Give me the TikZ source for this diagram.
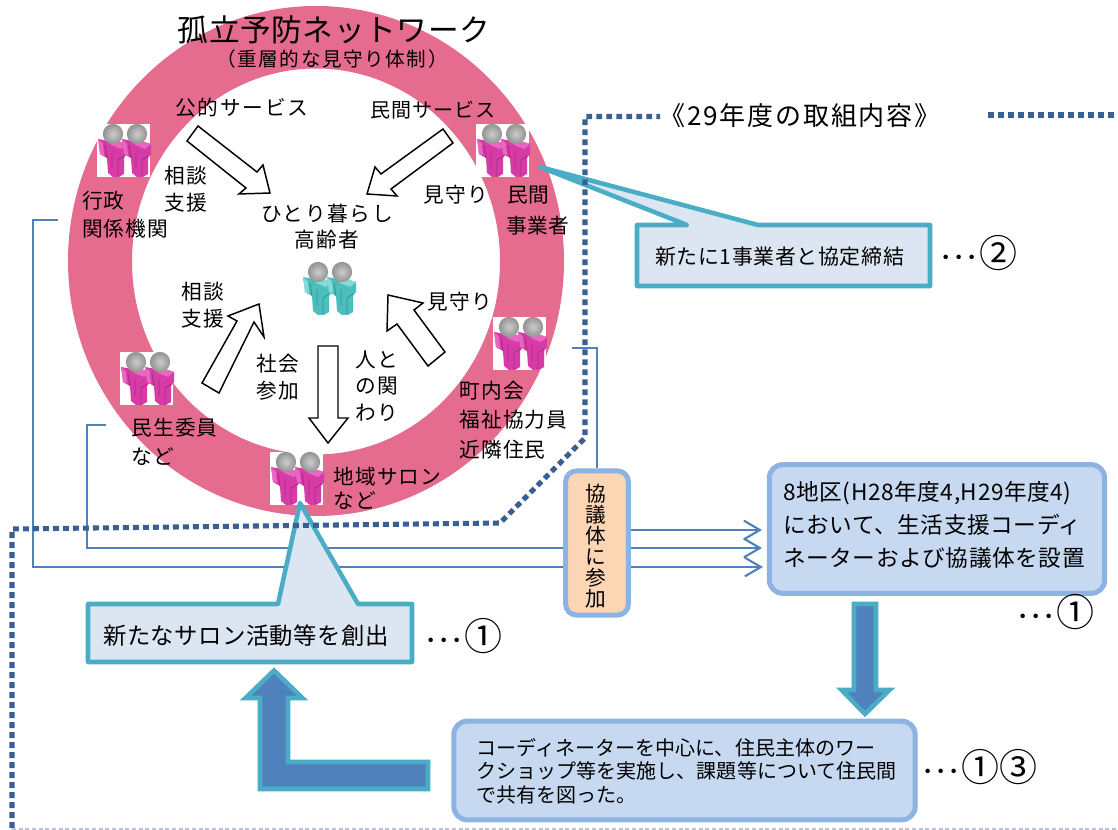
\documentclass[tikz,border=0pt]{standalone}
\usepackage{fontspec}
\setmainfont{Noto Sans CJK JP}
\usetikzlibrary{arrows.meta}
\definecolor{ringpink}{HTML}{E66C8F}
\definecolor{teal1}{HTML}{4BACC6}
\definecolor{pale}{HTML}{DCE6F2}
\definecolor{blue1}{HTML}{4F81BD}
\definecolor{blue2}{HTML}{8DB3E2}
\definecolor{blue3}{HTML}{C6D9F1}
\definecolor{orange1}{HTML}{FCD5B5}
\definecolor{dots}{HTML}{3A5F93}
\definecolor{mg}{HTML}{D63BA6}
\definecolor{mgl}{HTML}{E967C2}
\definecolor{mgd}{HTML}{AE2A86}
\definecolor{tl}{HTML}{4DBDBD}
\definecolor{tll}{HTML}{86DAD8}
\definecolor{tld}{HTML}{2F9799}
\tikzset{
  lab/.style n args={3}{font=\fontsize{#1}{#2}\selectfont\addfontfeature{LetterSpace=#3},inner sep=0pt,align=left,text=black},
  labc/.style n args={3}{lab={#1}{#2}{#3},align=center},
  mid/.style={lab={15.5}{20}{5}},
  midc/.style={labc={15.5}{20}{5}},
  flow/.style={draw=black,line width=1.1pt,fill=white,miter limit=10},
  callout/.style={draw=teal1,line width=3.4pt,fill=pale,line join=round},
  bigarrow/.style={draw=teal1,line width=3.4pt,fill=blue1,miter limit=10},
  bluebox/.style={draw=blue2,line width=3.75pt,fill=blue3,rounded corners=10pt,inner sep=0pt},
  orangebox/.style={draw=blue2,line width=3.75pt,fill=orange1,rounded corners=8pt,inner sep=0pt},
  thin line/.style={draw=blue1,line width=1.5pt},
  thin arrow/.style={thin line,-{Straight Barb[length=12pt,width=14pt,line width=1.6pt]}},
  dotline/.style={draw=dots,line width=3.8pt,dash pattern=on 4.4pt off 3.1pt},
  marks/.style={lab={28.5}{30}{0}}
}
\newcommand{\dotsmark}[1]{{\fontsize{20}{20}\selectfont ･･･}#1}
\newcommand{\onefig}[4][0]{%
  \begin{scope}[shift={(#1,0)}]
    \fill[#2] (1,15)--(12,17)--(20,17)--(30,20)--(30,30)--(27,34)--(27,50)--(22,53)--(16,53)--(11,49)--(10,34)--(3,30)--(2,22)--cycle;
    \fill[#3] (12,17)--(20,17)--(30,20)--(24,25)--(14,21)--cycle;
    \fill[#3] (1,15)--(6,20)--(7,31)--(3,30)--(2,22)--cycle;
    \draw[#4,line width=.7pt] (15,27)--(15,44) (21,36)--(21,52) (21,36)--(27,32) (8,21)--(10,34);
    \shade[inner color=gray!40,outer color=gray!85] (16,10) circle [radius=7.6pt];
  \end{scope}}
\newcommand{\people}[5]{%
  \begin{scope}[shift={(#1,#2)}]
    \fill[white] (0,0) rectangle (53,53);
    \onefig[0]{#3}{#4}{#5}
    \onefig[24]{#3}{#4}{#5}
  \end{scope}}
\begin{document}
\begin{tikzpicture}[x=0.75pt,y=-0.75pt]
\useasboundingbox (0,0) rectangle (1118,830);
\fill[white] (0,0) rectangle (1118,830);
% ring
\fill[ringpink,even odd rule] (316,261) ellipse [x radius=186pt,y radius=191.25pt]
      (316,261.5) ellipse [x radius=138pt,y radius=144.75pt];
% people
\people{97}{124}{mg}{mgl}{mgd}
\people{476}{124}{mg}{mgl}{mgd}
\people{493}{317}{mg}{mgl}{mgd}
\people{120}{352}{mg}{mgl}{mgd}
\people{270}{452}{mg}{mgl}{mgd}
\people{302}{262}{tl}{tll}{tld}
% white flow arrows
\draw[flow] (198,126)--(187,141)--(246,188)--(239,194)--(270,193)--(263,165)--(257,172)--cycle;
\draw[flow] (443,129)--(453,143)--(391,189)--(397,196)--(367,194)--(375,167)--(381,174)--cycle;
\draw[flow] (202,383)--(237,321)--(228,316)--(259,304)--(264,337)--(254,322)--(219,393)--cycle;
\draw[flow] (445,352)--(428,366)--(397,324)--(387,331)--(388,295)--(423,303)--(414,310)--cycle;
\draw[flow] (318,346)--(338,346)--(338,418)--(348,418)--(328,443)--(309,418)--(318,418)--cycle;
% boxes
\node[orangebox,minimum width=47pt,minimum height=108pt] (kyogi) at (597,543) {};
\node[bluebox,minimum width=251.5pt,minimum height=96.5pt] (setchi) at (937,529) {};
\node[bluebox,minimum width=346pt,minimum height=74pt] (ws) at (684.5,770.5) {};
% thin connectors
\coordinate (gyosei) at (58,220);
\coordinate (minsei) at (106,425);
\coordinate (chonai) at (572,348);
\coordinate (ta) at (763,567);
\coordinate (tb) at (762,548);
\coordinate (tc) at (762,530);
\coordinate (tcs) at (631,530);
\draw[thin arrow] (tcs)--(tc);
\draw[thin line] (chonai)--(597,348)--(kyogi.north);
\path[thin line] (minsei)--(87,425)--(87,548)--(kyogi.west|-tb);
\path[thin line] (gyosei)--(33,220)--(33,567)--(kyogi.west|-ta);
\draw[thin arrow] (kyogi.east|-tb)--(tb);
\draw[thin arrow] (kyogi.east|-ta)--(ta);
% callouts
\draw[callout] (637,225)--(687,225)--(540,167)--(758,225)--(930,225)--(930,286)--(637,286)--cycle;
\node[lab={15.7}{19}{3},anchor=west] (t1) at (655,257) {新たに1事業者と協定締結};
\draw[callout] (88,604)--(278,604)--(300,503)--(358,604)--(412,604)--(412,662)--(88,662)--cycle;
\node[lab={17.5}{20}{2},anchor=west] (t2) at (103,636) {新たなサロン活動等を創出};
% big arrows
\draw[bigarrow] (274,670.5)--(302.5,698)--(288,698)--(288,762)--(428,762)--(428,789)--(260,789)--(260,698)--(245.5,698)--cycle;
\draw[bigarrow] (854,604)--(876,604)--(876,690)--(889.5,690)--(865,714)--(841.5,690)--(854,690)--cycle;
% dotted frame
\coordinate (f0) at (12,828);
\coordinate (f1) at (12,529);
\coordinate (f2) at (500,523);
\coordinate (f3) at (585,438);
\coordinate (f4) at (585,116.5);
\coordinate (f5) at (660,116.5);
\coordinate (f6) at (988,115);
\coordinate (f7) at (1118,115);
\draw[dotline] (f0)--(f1)--(f2)--(f3)--(f4)--(f5);
\draw[dotline] (f6)--(f7);
\coordinate (g0) at (12,829);
\coordinate (g1) at (1118,829);
\draw[draw=blue2!60!gray!60,line width=0.9pt,dash pattern=on 3pt off 2pt] (g0)--(g1);
% texts
\node[labc={23}{27}{2}] (title) at (334,30) {孤立予防ネットワーク};
\node[labc={14.7}{16}{8}] (sub) at (332,59) {（重層的な見守り体制）};
\node[labc={15.5}{18}{9}] (a1) at (242,108) {公的サービス};
\node[labc={15}{18}{5}] (a2) at (433,110) {民間サービス};
\node[midc] (a3) at (186,189) {相談\\支援};
\node[lab={15.5}{21}{5},anchor=west] (a4) at (82,215) {行政\\関係機関};
\node[midc] (a5) at (456,195) {見守り};
\node[lab={15.5}{23}{2.5},anchor=west] (a6) at (506,210.5) {\hspace{1pt}民間\\事業者};
\node[labc={15.5}{19.5}{8}] (a7) at (327,227) {ひとり暮らし\\高齢者};
\node[midc] (a8) at (203,305) {相談\\支援};
\node[midc] (a9) at (460,302) {見守り};
\node[midc] (a10) at (278,377) {社会\\参加};
\node[midc] (a11) at (377,386) {人と\\の関\\わり};
\node[lab={15.5}{22}{6},anchor=west] (a12) at (459,420) {町内会\\福祉協力員\\近隣住民};
\node[lab={15.5}{21.5}{6},anchor=west] (a13) at (131,442) {民生委員\\など};
\node[lab={15.5}{18}{6},anchor=west] (a14) at (333,488) {地域サロン\\など};
\node[labc={15.5}{15.8}{0}] (a15) at (596,546) {協\\議\\体\\に\\参\\加};
\node[lab={17}{24.5}{2.5},anchor=west] (a16) at (783,525) {8地区(H28年度4,H29年度4)\\において、生活支援コーディ\\ネーターおよび協議体を設置};
\node[lab={15}{17.6}{0.3},anchor=west] (a17) at (476,771) {コーディネーターを中心に、住民主体のワー\\クショップ等を実施し、課題等について住民間\\で共有を図った。};
\node[labc={19.5}{22}{7}] (a18) at (800,116) {《29年度の取組内容》};
\node[marks,anchor=west] (m1) at (424,636) {\dotsmark{①}};
\node[marks,anchor=west] (m2) at (939,253) {\dotsmark{②}};
\node[marks,anchor=west] (m3) at (1016,612) {\dotsmark{①}};
\node[marks,anchor=west] (m4) at (921,767) {\dotsmark{①③}};
\end{tikzpicture}
\end{document}
